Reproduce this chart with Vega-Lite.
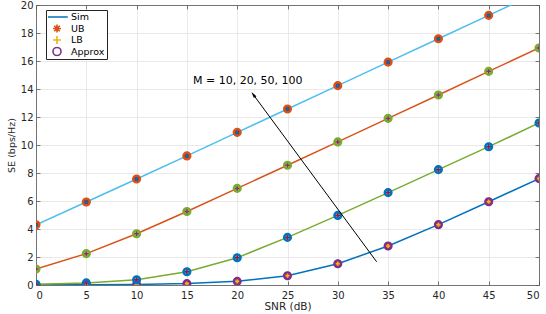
{
  "$schema": "https://vega.github.io/schema/vega-lite/v6.json",
  "width": 503,
  "height": 280,
  "autosize": {"type": "none"},
  "padding": {"left": 36, "top": 5, "right": 7, "bottom": 29},
  "background": "white",
  "config": {
    "font": "DejaVu Sans",
    "view": {"stroke": null},
    "axis": {
      "domainColor": "#555555",
      "domainWidth": 0.8,
      "tickColor": "#555555",
      "tickWidth": 0.8,
      "tickSize": -4,
      "gridColor": "#e3e3e3",
      "gridWidth": 0.8,
      "labelFont": "DejaVu Sans",
      "labelFontSize": 10,
      "labelColor": "#262626",
      "titleFont": "DejaVu Sans",
      "titleFontWeight": "normal",
      "titleColor": "#262626"
    }
  },
  "data": {
    "values": [
      {"snr": 0, "M": 10, "se": 0.01}, {"snr": 5, "M": 10, "se": 0.02}, {"snr": 10, "M": 10, "se": 0.04}, {"snr": 15, "M": 10, "se": 0.1}, {"snr": 20, "M": 10, "se": 0.26}, {"snr": 25, "M": 10, "se": 0.66}, {"snr": 30, "M": 10, "se": 1.52}, {"snr": 35, "M": 10, "se": 2.79}, {"snr": 40, "M": 10, "se": 4.31}, {"snr": 45, "M": 10, "se": 5.95}, {"snr": 50, "M": 10, "se": 7.6},
      {"snr": 0, "M": 20, "se": 0.05}, {"snr": 5, "M": 20, "se": 0.15}, {"snr": 10, "M": 20, "se": 0.38}, {"snr": 15, "M": 20, "se": 0.95}, {"snr": 20, "M": 20, "se": 1.95}, {"snr": 25, "M": 20, "se": 3.4}, {"snr": 30, "M": 20, "se": 4.97}, {"snr": 35, "M": 20, "se": 6.6}, {"snr": 40, "M": 20, "se": 8.24}, {"snr": 45, "M": 20, "se": 9.88}, {"snr": 50, "M": 20, "se": 11.57},
      {"snr": 0, "M": 50, "se": 1.14}, {"snr": 5, "M": 50, "se": 2.24}, {"snr": 10, "M": 50, "se": 3.66}, {"snr": 15, "M": 50, "se": 5.25}, {"snr": 20, "M": 50, "se": 6.9}, {"snr": 25, "M": 50, "se": 8.55}, {"snr": 30, "M": 50, "se": 10.22}, {"snr": 35, "M": 50, "se": 11.9}, {"snr": 40, "M": 50, "se": 13.57}, {"snr": 45, "M": 50, "se": 15.26}, {"snr": 50, "M": 50, "se": 16.93},
      {"snr": 0, "M": 100, "se": 4.3}, {"snr": 5, "M": 100, "se": 5.93}, {"snr": 10, "M": 100, "se": 7.57}, {"snr": 15, "M": 100, "se": 9.22}, {"snr": 20, "M": 100, "se": 10.9}, {"snr": 25, "M": 100, "se": 12.57}, {"snr": 30, "M": 100, "se": 14.24}, {"snr": 35, "M": 100, "se": 15.92}, {"snr": 40, "M": 100, "se": 17.59}, {"snr": 45, "M": 100, "se": 19.26}, {"snr": 50, "M": 100, "se": 20.93}
    ]
  },
  "layer": [
    {
      "encoding": {
        "x": {"field": "snr", "type": "quantitative", "scale": {"domain": [0, 50], "nice": false},
          "axis": {"orient": "bottom", "values": [0, 5, 10, 15, 20, 25, 30, 35, 40, 45, 50], "title": "SNR (dB)", "titleFontSize": 10.5, "labelPadding": 9, "titlePadding": 1, "grid": true}},
        "y": {"field": "se", "type": "quantitative", "scale": {"domain": [0, 20], "nice": false},
          "axis": {"orient": "left", "values": [0, 2, 4, 6, 8, 10, 12, 14, 16, 18, 20], "title": "SE (bps/Hz)", "titleFontSize": 9.5, "labelPadding": 7, "titlePadding": 4, "grid": true}}
      },
      "layer": [
        {
          "mark": {"type": "line", "strokeWidth": 1.5, "clip": true},
          "encoding": {"stroke": {"field": "M", "type": "nominal", "scale": {"domain": [10, 20, 50, 100], "range": ["#0072BD", "#77AC30", "#D95319", "#4DBEEE"]}, "legend": null}}
        },
        {
          "mark": {"type": "point", "shape": "M-1,0L1,0M0,-1L0,1M-0.7,-0.7L0.7,0.7M-0.7,0.7L0.7,-0.7", "size": 64, "strokeWidth": 2, "filled": false, "opacity": 1, "clip": true},
          "encoding": {"stroke": {"field": "M", "type": "nominal", "scale": {"domain": [10, 20, 50, 100], "range": ["#D95319", "#4DBEEE", "#EDB120", "#A2142F"]}, "legend": null}}
        },
        {
          "mark": {"type": "point", "shape": "M-1,0L1,0M0,-1L0,1", "size": 49, "strokeWidth": 1.5, "filled": false, "opacity": 1, "clip": true},
          "encoding": {"stroke": {"field": "M", "type": "nominal", "scale": {"domain": [10, 20, 50, 100], "range": ["#EDB120", "#A2142F", "#7E2F8E", "#0072BD"]}, "legend": null}}
        },
        {
          "mark": {"type": "point", "shape": "circle", "size": 45, "strokeWidth": 2.4, "filled": false, "opacity": 1, "clip": true},
          "encoding": {"stroke": {"field": "M", "type": "nominal", "scale": {"domain": [10, 20, 50, 100], "range": ["#7E2F8E", "#0072BD", "#77AC30", "#D95319"]}, "legend": null}}
        },
        {
          "transform": [{"filter": "datum.snr < 0"}],
          "mark": {"type": "point", "filled": false, "opacity": 1},
          "encoding": {
            "color": {"field": "type", "type": "nominal", "scale": {"domain": ["Sim", "UB", "LB", "Approx"], "range": ["#0072BD", "#D95319", "#EDB120", "#7E2F8E"]},
              "legend": {"orient": "none", "legendX": 10, "legendY": 5, "title": null, "padding": 2, "strokeColor": "#262626", "fillColor": "white", "symbolSize": 64, "symbolStrokeWidth": 1.6, "symbolOffset": 4, "labelOffset": 9, "labelFont": "DejaVu Sans", "labelFontSize": 9.5, "labelColor": "#000000", "rowPadding": 1.5, "clipHeight": 10, "cornerRadius": 0}},
            "shape": {"field": "type", "type": "nominal", "scale": {"domain": ["Sim", "UB", "LB", "Approx"], "range": ["M-2.7,0L2.7,0", "M-1,0L1,0M0,-1L0,1M-0.7,-0.7L0.7,0.7M-0.7,0.7L0.7,-0.7", "M-1,0L1,0M0,-1L0,1", "circle"]}}
          }
        },
        {
          "data": {"values": [{"snr": 33.86, "se": 1.66, "snr2": 21.6, "se2": 13.6}]},
          "mark": {"type": "rule", "color": "#000000", "strokeWidth": 1},
          "encoding": {"x2": {"field": "snr2"}, "y2": {"field": "se2"}}
        },
        {
          "data": {"values": [{"snr": 21.6, "se": 13.6}]},
          "mark": {"type": "point", "shape": "M0,-1L0.5,1L-0.5,1Z", "size": 40, "angle": 323.6, "filled": true, "color": "#000000", "opacity": 1},
          "encoding": {}
        },
        {
          "data": {"values": [{"snr": 15.6, "se": 14.59, "label": "M = 10, 20, 50, 100"}]},
          "mark": {"type": "text", "align": "left", "baseline": "middle", "fontSize": 11, "font": "DejaVu Sans", "color": "#000000"},
          "encoding": {"text": {"field": "label"}}
        }
      ],
      "resolve": {"scale": {"stroke": "independent"}}
    },
    {
      "transform": [{"filter": "datum.snr < 0"}],
      "mark": {"type": "point", "opacity": 0},
      "encoding": {
        "x": {"field": "snr", "type": "quantitative", "axis": {"orient": "top", "values": [0, 5, 10, 15, 20, 25, 30, 35, 40, 45, 50], "labels": false, "title": null, "grid": false}},
        "y": {"field": "se", "type": "quantitative", "axis": {"orient": "right", "values": [0, 2, 4, 6, 8, 10, 12, 14, 16, 18, 20], "labels": false, "title": null, "grid": false}}
      }
    }
  ],
  "resolve": {"axis": {"x": "independent", "y": "independent"}}
}
